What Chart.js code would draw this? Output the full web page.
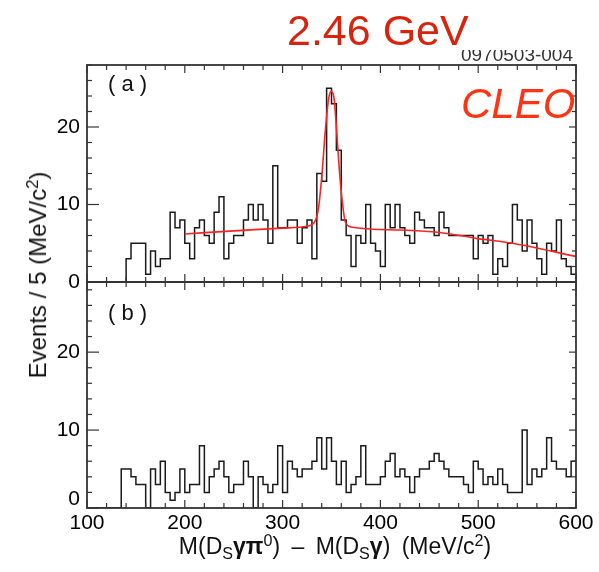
<!DOCTYPE html>
<html>
<head>
<meta charset="utf-8">
<script src="https://cdn.jsdelivr.net/npm/chart.js@4.4.1/dist/chart.umd.min.js"></script>
<style>
html,body{margin:0;padding:0;background:#fff;}
#wrap{position:relative;width:599px;height:572px;overflow:hidden;font-family:"Liberation Sans",Arial,sans-serif;color:#111;}
#c{position:absolute;left:0;top:0;}
.t{position:absolute;white-space:nowrap;line-height:1;}
#code{left:461px;top:45px;font-size:19px;color:#333;}
#mask{position:absolute;left:430px;top:0;width:169px;height:50px;background:#fff;}
#gev{left:287px;top:9px;font-size:43px;color:#d8240c;}
#cleo{left:461px;top:83px;font-size:42px;font-style:italic;color:#ff3414;}
#la{left:108px;top:73px;font-size:22px;color:#111;}
#lb{left:108px;top:302px;font-size:22px;color:#111;}
#ytitle{left:38px;top:275px;font-size:24px;transform:translate(-50%,-50%) rotate(-90deg);}
#xtitle{left:335px;top:535px;font-size:23px;transform:translateX(-50%);word-spacing:5px;}
.sb{font-size:0.7em;position:relative;top:0.3em;}
.sp{font-size:0.7em;position:relative;top:-0.5em;}
.gk{font-weight:bold;}
</style>
</head>
<body>
<div id="wrap">
<canvas id="c" width="599" height="572"></canvas>
<div class="t" id="code">0970503-004</div>
<div id="mask"></div>
<div class="t" id="gev">2.46 GeV</div>
<div class="t" id="cleo">CLEO</div>
<div class="t" id="la">( a )</div>
<div class="t" id="lb">( b )</div>
<div class="t" id="ytitle">Events / 5 (MeV/c<span class="sp">2</span>)</div>
<div class="t" id="xtitle">M(D<span class="sb">S</span><span class="gk">γπ</span><span class="sp">0</span>) – M(D<span class="sb">S</span><span class="gk">γ</span>) (MeV/c<span class="sp">2</span>)</div>
</div>
<script>
// ---- data ----
const binStart = 100;      // MeV/c^2
const binWidth = 5;        // MeV/c^2
// panel (a): events per 5 MeV bin, 100..600
const countsA = [
  0,0,0,0,0,0,0,0,3,5, 5,5,1,4,2,3,3,9,7,8,
  5,3,7,8,6,5,9,11,3,5, 6,6,8,10,8,10,8,5,15,7,
  7,8,8,5,7,8,3,14,13,25, 23,17,8,6,2,6,5,10,5,4,
  2,10,7,10,7,6,5,9,8,7, 7,6,9,7,6,6,6,6,6,3,
  6,5,6,1,3,2,5,10,8,4, 8,5,3,1,5,4,8,3,2,1
];
// panel (b)
const countsB = [
  0,0,0,0,0,0,0,5,5,4, 3,3,0,5,3,6,2,1,2,5,
  2,3,3,8,2,4,5,6,4,2, 3,3,6,4,0,4,3,2,3,8,
  2,6,5,4,5,5,6,9,5,9, 6,3,6,2,3,4,8,3,3,3,
  4,6,7,4,5,4,2,4,5,5, 6,7,6,5,4,4,4,3,2,6,
  5,3,4,3,5,3,2,2,2,10, 3,5,4,5,9,6,5,5,4,6
];
// fit curve in panel (a)
const fitMass   = [200, 250, 300, 325, 332, 336.7, 340.2, 343.6, 347, 349.7, 352.5, 355.6, 358, 360.7, 364, 370, 420, 466, 500, 535, 600];
const fitEvents = [6.2, 6.6, 6.95, 7.2, 7.6, 9.5, 13.8, 19.4, 23.6, 24.6, 23.8, 18.9, 14.5, 10.8, 7.8, 7.1, 6.7, 6.3, 5.6, 5.0, 3.3];
const xTickLabels = [100, 200, 300, 400, 500, 600];
const yTickLabels = [0, 10, 20];

// ---- build ----
const FONT = '"Liberation Sans", Arial, sans-serif';
const binEdges = [];
for (let i = 0; i <= countsA.length; i++) binEdges.push(binStart + binWidth * i);
function stepPoints(counts) {
  const pts = counts.map((v, i) => ({x: binEdges[i], y: v}));
  pts.push({x: binEdges[counts.length], y: counts[counts.length - 1]});
  return pts;
}

const frameTicks = {
  id: 'frameTicks',
  afterDatasetsDraw(chart) {
    const {ctx, chartArea, scales} = chart;
    const x = scales.x, yA = scales.yA, yB = scales.yB;
    const L = chartArea.left, R = chartArea.right;
    ctx.save();
    ctx.strokeStyle = '#333';
    ctx.lineWidth = 1.2;
    const seg = (x1, y1, x2, y2) => { ctx.beginPath(); ctx.moveTo(x1, y1); ctx.lineTo(x2, y2); ctx.stroke(); };
    for (let v = 100; v <= 600; v += 20) {
      const px = x.getPixelForValue(v);
      const len = (v % 100 === 0) ? 8 : 5;
      seg(px, yA.top, px, yA.top + len);
      seg(px, yA.bottom, px, yA.bottom - len);
      seg(px, yB.top, px, yB.top + len);
      seg(px, yB.bottom, px, yB.bottom - len);
    }
    for (const s of [yA, yB]) {
      for (let v = 0; v <= s.max; v += 2) {
        const py = s.getPixelForValue(v);
        const major = v % 10 === 0;
        seg(L, py, L + (major ? 12 : 5), py);
        seg(R, py, R - (major ? 7 : 4), py);
      }
    }
    ctx.lineWidth = 1.8;
    ctx.strokeRect(L, yA.top, R - L, yA.bottom - yA.top);
    ctx.strokeRect(L, yB.top, R - L, yB.bottom - yB.top);
    ctx.restore();
  }
};

const yCommon = {
  type: 'linear',
  position: 'left',
  stack: 'panels',
  offset: false,
  grid: {display: false, drawTicks: false},
  border: {display: false},
  ticks: {font: {family: FONT, size: 21}, color: '#000', padding: 7, autoSkip: false,
          callback: v => String(Math.round(v / 10) * 10)},
  afterFit: s => { s.width = 87; }
};

new Chart(document.getElementById('c'), {
  type: 'line',
  data: {
    datasets: [
      {label: 'fit', data: fitMass.map((m, i) => ({x: m, y: fitEvents[i]})), yAxisID: 'yA',
       borderColor: '#ff2222', borderWidth: 1.6, pointRadius: 0, fill: false, cubicInterpolationMode: 'monotone'},
      {label: '(a)', data: stepPoints(countsA), yAxisID: 'yA', stepped: 'before',
       borderColor: '#1a1a1a', borderWidth: 1.5, pointRadius: 0, fill: false},
      {label: '(b)', data: stepPoints(countsB), yAxisID: 'yB', stepped: 'before',
       borderColor: '#1a1a1a', borderWidth: 1.5, pointRadius: 0, fill: false}
    ]
  },
  options: {
    responsive: false,
    animation: false,
    devicePixelRatio: 1,
    layout: {padding: {top: 65, right: 23, left: 0, bottom: 0}},
    plugins: {legend: {display: false}, tooltip: {enabled: false}},
    scales: {
      x: {
        type: 'linear', min: 100, max: 600, position: 'bottom',
        grid: {display: false, drawTicks: false},
        border: {display: false},
        ticks: {font: {family: FONT, size: 21}, color: '#000', padding: 3, maxRotation: 0, autoSkip: false},
        afterBuildTicks: s => { s.ticks = xTickLabels.map(v => ({value: v})); },
        afterFit: s => { s.height = 64; }
      },
      yA: Object.assign({}, yCommon, {
        min: 0, max: 28, stackWeight: 217, weight: 1,
        afterBuildTicks: s => { s.ticks = yTickLabels.map(v => ({value: v})); }
      }),
      yB: Object.assign({}, yCommon, {
        min: 0, max: 29, stackWeight: 226, weight: 0,
        afterBuildTicks: s => { s.ticks = yTickLabels.map(v => ({value: v === 0 ? 1.1 : v})); }
      })
    }
  },
  plugins: [frameTicks]
});
</script>
</body>
</html>
